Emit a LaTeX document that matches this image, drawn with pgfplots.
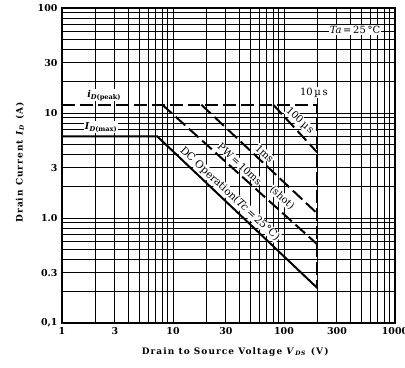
\documentclass[border=0pt]{standalone}
\usepackage{fontspec}
\setmainfont{DejaVu Serif}
\usepackage{pgfplots}
\pgfplotsset{compat=1.18}
\begin{document}
\begin{tikzpicture}
\begin{axis}[
  scale only axis, width=333bp, height=315bp,
  xmode=log, ymode=log,
  xmin=1, xmax=1000, ymin=0.1, ymax=100,
  xtick={1,2,3,4,5,6,7,8,9,10,20,30,40,50,60,70,80,90,100,200,300,400,500,600,700,800,900,1000},
  xticklabels={1,,3,,,,,,,10,,30,,,,,,,100,,300,,,,,,,1000},
  ytick={0.1,0.2,0.3,0.4,0.5,0.6,0.7,0.8,0.9,1,2,3,4,5,6,7,8,9,10,20,30,40,50,60,70,80,90,100},
  yticklabels={{0,1},,0.3,,,,,,,1.0,,3,,,,,,,10,,30,,,,,,,100},
  grid=major,
  major grid style={black, line width=1.0pt},
  axis line style={black, line width=1.4pt},
  major tick length=0pt,
  tick label style={font=\fontsize{9.5}{10}\selectfont\bfseries},
  xticklabel style={yshift=-1bp},
  yticklabel style={xshift=-1bp},
  xlabel={Drain to Source Voltage \textit{V}\textsubscript{\textit{DS}} (V)},
  ylabel={Drain Current \textit{I}\textsubscript{\textit{D}} (A)},
  label style={font=\fontsize{9}{10}\selectfont\bfseries\addfontfeature{LetterSpace=12}},
  xlabel style={at={(axis description cs:0.52,0)}, anchor=center, yshift=-29bp},
  ylabel style={at={(axis description cs:0,0.51)}, anchor=center, yshift=42bp},
  clip=false,
]
\coordinate (sw) at (rel axis cs:0,0);
\coordinate (ne) at (rel axis cs:1,1);
% DC operation
\addplot[black, line width=2pt] coordinates {(1,6) (7.2,6) (200,0.215)};
% peak / 10us
\addplot[black, line width=2pt, dash pattern=on 13pt off 5pt] coordinates {(1,12) (200,12) (200,0.215)};
% 100us
\addplot[black, line width=2pt, dash pattern=on 13pt off 5pt] coordinates {(80,12) (200,4.2)};
% 1ms
\addplot[black, line width=2pt, dash pattern=on 13pt off 5pt] coordinates {(18,12) (200,1.1)};
% 10ms
\addplot[black, line width=2pt, dash pattern=on 13pt off 5pt] coordinates {(8,12) (200,0.56)};

\node[fill=white, inner sep=1pt, font=\fontsize{9.5}{10}\selectfont\bfseries] at (axis cs:2.4,14.8) {\textit{i}\textsubscript{\textit{D}(peak)}};
\node[fill=white, inner sep=1pt, font=\fontsize{9.5}{10}\selectfont\bfseries] at (axis cs:2.25,7.3) {\textit{I}\textsubscript{\textit{D}(max)}};
\node[fill=white, inner sep=1pt, font=\fontsize{10}{11}\selectfont] at (axis cs:436,62) {\textit{Ta}\,=\,25\,°C};
\node[fill=white, inner sep=1pt, font=\fontsize{10}{11}\selectfont] at (axis cs:186,15.6) {10\,µ\,s};
\node[fill=white, inner sep=0.5pt, rotate=-43, font=\fontsize{10}{11}\selectfont] at (axis cs:139,8.4) {100\,µ\,s};
\node[fill=white, inner sep=0.5pt, rotate=-43, font=\fontsize{10}{11}\selectfont] at (axis cs:67,4.1) {1ms};
\node[fill=white, inner sep=0.5pt, rotate=-43, font=\fontsize{10}{11}\selectfont] at (axis cs:40,3.27) {PW\,=\,10ms};
\node[fill=white, inner sep=0.5pt, rotate=-43, font=\fontsize{10}{11}\selectfont] at (axis cs:96,1.55) {(shot)};
\node[fill=white, inner sep=0.5pt, rotate=-43, font=\fontsize{10.5}{11}\selectfont] at (axis cs:32.5,1.69) {DC Operation(\textit{Tc}\,=\,25°C)};
\end{axis}
\pgfresetboundingbox
\path ([xshift=-62bp,yshift=-45bp]sw) rectangle ([xshift=10bp,yshift=8bp]ne);
\end{tikzpicture}
\end{document}
